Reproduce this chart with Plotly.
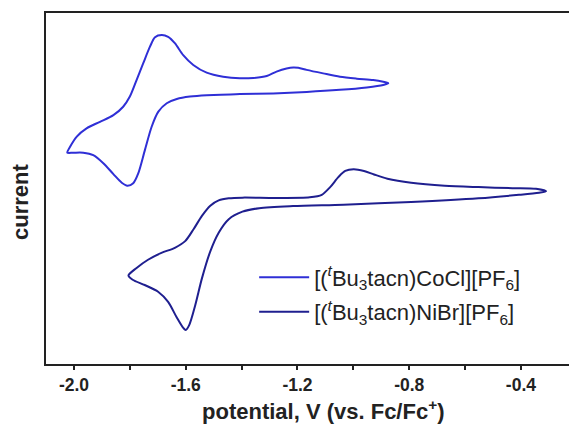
import plotly.graph_objects as go

# ---- data (potential in V vs Fc/Fc+, current in arbitrary units) ----
co_potential = [-0.875, -0.893, -0.929, -0.988, -1.048, -1.108, -1.167, -1.197, -1.215, -1.239,
                -1.275, -1.310, -1.358, -1.406, -1.466, -1.525, -1.573, -1.609, -1.639, -1.663,
                -1.686, -1.710, -1.728, -1.752, -1.776, -1.800, -1.824, -1.859, -1.907, -1.955,
                -1.990, -2.014, -2.024, -2.003, -1.967, -1.931, -1.895, -1.859, -1.829, -1.809,
                -1.788, -1.770, -1.746, -1.722, -1.698, -1.668, -1.632, -1.585, -1.525, -1.406,
                -1.287, -1.167, -1.048, -0.952, -0.893, -0.875]
co_current = [80.0, 80.4, 80.9, 81.3, 81.85, 82.8, 83.8, 84.4, 84.5, 84.2,
              83.3, 82.05, 81.5, 81.4, 81.85, 83.0, 85.2, 88.0, 91.4, 93.2,
              93.7, 93.1, 90.4, 85.7, 80.9, 76.2, 73.3, 70.9, 69.0, 67.15,
              64.8, 61.9, 60.2, 60.2, 60.2, 59.5, 57.2, 54.1, 51.65, 50.8,
              51.5, 54.3, 61.0, 67.6, 71.9, 74.3, 75.5, 76.2, 76.6, 76.9,
              77.1, 77.5, 78.1, 78.8, 79.5, 80.0]

ni_potential = [-0.310, -0.346, -0.431, -0.552, -0.673, -0.793, -0.878, -0.926, -0.962, -0.999,
                -1.029, -1.053, -1.083, -1.113, -1.156, -1.276, -1.397, -1.446, -1.482, -1.512,
                -1.542, -1.572, -1.602, -1.639, -1.687, -1.735, -1.777, -1.805, -1.790, -1.747,
                -1.699, -1.663, -1.633, -1.608, -1.600, -1.588, -1.566, -1.542, -1.512, -1.482,
                -1.446, -1.397, -1.337, -1.216, -1.035, -0.793, -0.552, -0.407, -0.335, -0.310]
ni_current = [49.2, 49.9, 50.1, 50.4, 50.8, 51.65, 52.8, 54.0, 55.0, 55.5,
              55.0, 53.3, 50.4, 48.2, 47.5, 47.3, 47.4, 47.2, 46.6, 45.1,
              42.2, 38.4, 35.0, 33.1, 31.65, 29.7, 27.3, 25.2, 24.0, 22.5,
              20.6, 17.7, 13.4, 10.2, 9.7, 11.0, 16.75, 24.4, 32.1, 37.4,
              41.25, 43.4, 44.4, 45.0, 45.4, 46.15, 47.2, 48.2, 48.8, 49.2]

co_name = "[(<sup><i>t</i></sup>Bu<sub>3</sub>tacn)CoCl][PF<sub>6</sub>]"
ni_name = "[(<sup><i>t</i></sup>Bu<sub>3</sub>tacn)NiBr][PF<sub>6</sub>]"
x_title = "potential, V (vs. Fc/Fc<sup>+</sup>)"
y_title = "current"
x_ticks = [-2.0, -1.6, -1.2, -0.8, -0.4]
x_ticklabels = ["-2.0", "-1.6", "-1.2", "-0.8", "-0.4"]

FONT = "Liberation Sans, Arial, sans-serif"

fig = go.Figure()
fig.add_trace(go.Scatter(x=co_potential, y=co_current, mode="lines", name=co_name,
                         legendgroup="co",
                         line=dict(color="#2f2fd6", width=2, shape="spline", smoothing=0.8)))
fig.add_trace(go.Scatter(x=ni_potential, y=ni_current, mode="lines", name=ni_name,
                         legendgroup="ni",
                         line=dict(color="#1f1f8f", width=2, shape="spline", smoothing=0.8)))

fig.update_layout(
    width=569, height=429,
    margin=dict(l=46, r=0, t=13, b=65),
    paper_bgcolor="white", plot_bgcolor="white",
    font=dict(family=FONT, color="#222"),
    showlegend=True,
    legend=dict(x=0.398, y=0.197, xanchor="left", yanchor="middle",
                bgcolor="rgba(0,0,0,0)", font=dict(size=22, family=FONT, color="#222"),
                tracegroupgap=3, itemwidth=50),
    xaxis=dict(range=[-2.1002, -0.228], showgrid=False, zeroline=False,
               showline=True, linecolor="#222", linewidth=2, mirror=True,
               tickmode="array", tickvals=x_ticks, ticktext=x_ticklabels,
               ticks="outside", ticklen=4, tickwidth=2, tickcolor="#222",
               tickfont=dict(size=17.5, family=FONT, color="#222", weight="bold"),
               minor=dict(dtick=0.2, tick0=-2.0, ticks="outside", ticklen=4,
                          tickwidth=2, tickcolor="#222", showgrid=False)),
    yaxis=dict(range=[0, 100], showgrid=False, zeroline=False,
               showline=True, linecolor="#222", linewidth=2,
               showticklabels=False, ticks=""),
    annotations=[
        dict(text="<b>" + x_title + "</b>", xref="paper", yref="paper",
             x=(323 - 46) / 523, y=-(410 - 364) / 351, xanchor="center", yanchor="middle",
             showarrow=False, font=dict(size=22, family=FONT, color="#222")),
        dict(text="<b>" + y_title + "</b>", xref="paper", yref="paper",
             x=-(46 - 20) / 523, y=(364 - 202) / 351, xanchor="center", yanchor="middle",
             textangle=-90, showarrow=False, font=dict(size=22, family=FONT, color="#222")),
    ],
)

fig.write_html("out.html", config={"displayModeBar": False},
               post_script="document.body.style.margin='0px';")
